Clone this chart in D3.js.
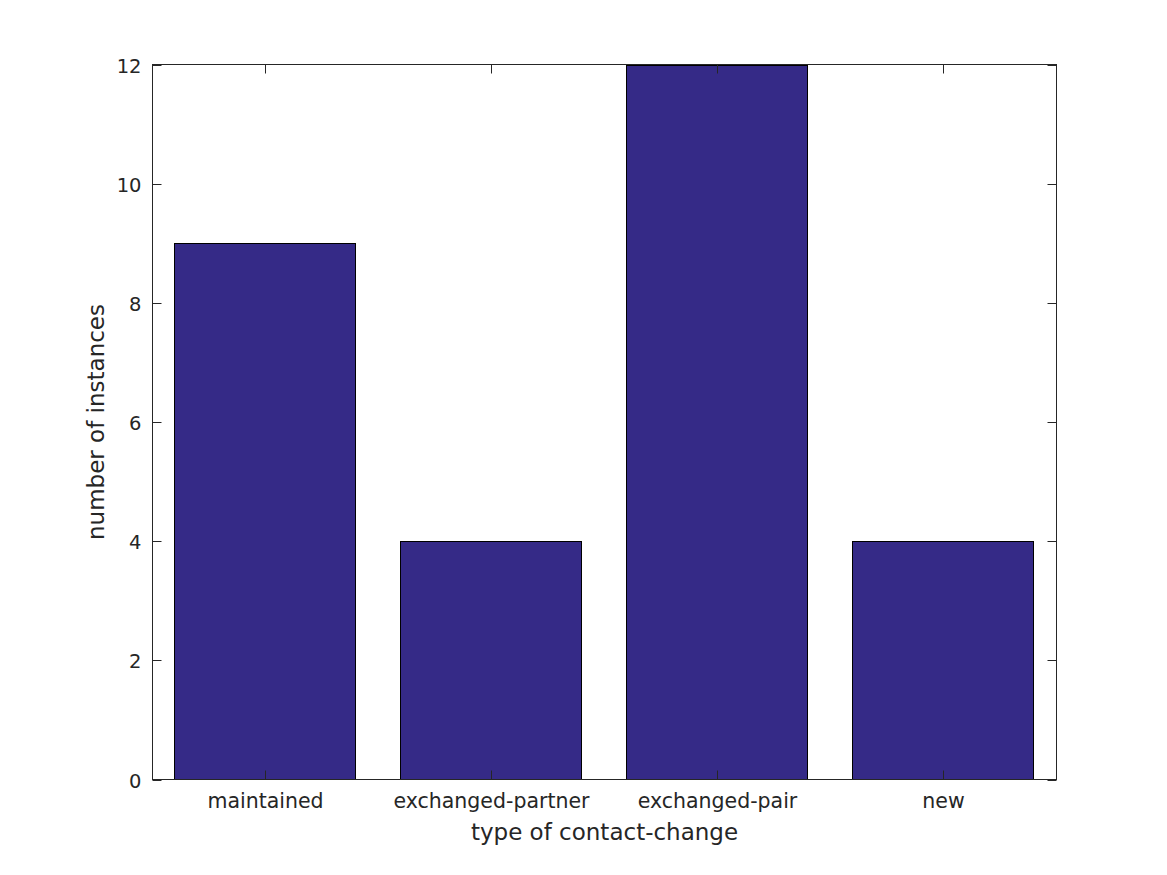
<!DOCTYPE html>
<html><head><meta charset="utf-8">
<script src="https://cdn.jsdelivr.net/npm/d3@7"></script>
<style>body{margin:0;background:#fff}svg{display:block}</style>
</head><body>
<svg id="c" width="1167" height="875"></svg>
<script>
const categories = ["maintained", "exchanged-partner", "exchanged-pair", "new"];
const values = [9, 4, 12, 4];
const yTicks = [0, 2, 4, 6, 8, 10, 12];
const xLabel = "type of contact-change";
const yLabel = "number of instances";

const svg = d3.select("#c");
const L = 152.5, R = 1056.5, T = 64.5, B = 779.5;
const font = "'DejaVu Sans', sans-serif";
const tc = "#262626";

const x = d3.scaleBand().domain(categories).range([L, R]).paddingInner(0.2).paddingOuter(0.1);
const y = d3.scaleLinear().domain([0, 12]).range([B, T]);

svg.append("rect").attr("width", 1167).attr("height", 875).attr("fill", "#fff");

svg.selectAll("rect.bar").data(values).enter().append("rect")
  .attr("class", "bar")
  .attr("x", (d, i) => Math.round(x(categories[i])) - 0.5)
  .attr("width", Math.round(x.bandwidth()))
  .attr("y", d => Math.round(y(d)) + 0.5)
  .attr("height", d => B - (Math.round(y(d)) + 0.5))
  .attr("fill", "#352a87").attr("stroke", "#000").attr("stroke-width", 1);

svg.append("rect").attr("x", L).attr("y", T).attr("width", R - L).attr("height", B - T)
  .attr("fill", "none").attr("stroke", tc).attr("stroke-width", 1);

const tl = 9;
const g = svg.append("g").attr("stroke", tc).attr("stroke-width", 1);
yTicks.forEach(t => {
  const yy = Math.round(y(t)) + 0.5;
  g.append("line").attr("x1", L).attr("x2", L + tl).attr("y1", yy).attr("y2", yy);
  g.append("line").attr("x1", R).attr("x2", R - tl).attr("y1", yy).attr("y2", yy);
  svg.append("text").attr("x", L - 11).attr("y", yy).attr("dy", "0.36em")
    .attr("text-anchor", "end").attr("font-family", font).attr("font-size", 19.5).attr("fill", tc).text(t);
});
categories.forEach(c => {
  const xx = Math.round(x(c) + x.bandwidth() / 2) - 0.5;
  g.append("line").attr("x1", xx).attr("x2", xx).attr("y1", B).attr("y2", B - tl);
  g.append("line").attr("x1", xx).attr("x2", xx).attr("y1", T).attr("y2", T + tl);
  svg.append("text").attr("x", xx).attr("y", B + 28)
    .attr("text-anchor", "middle").attr("font-family", font).attr("font-size", 20.5).attr("fill", tc).text(c);
});

svg.append("text").attr("x", (L + R) / 2).attr("y", 840).attr("text-anchor", "middle")
  .attr("font-family", font).attr("font-size", 23).attr("fill", tc).text(xLabel);
svg.append("text").attr("transform", `translate(104,${(T + B) / 2}) rotate(-90)`).attr("text-anchor", "middle")
  .attr("font-family", font).attr("font-size", 23).attr("fill", tc).text(yLabel);
</script>
</body></html>
